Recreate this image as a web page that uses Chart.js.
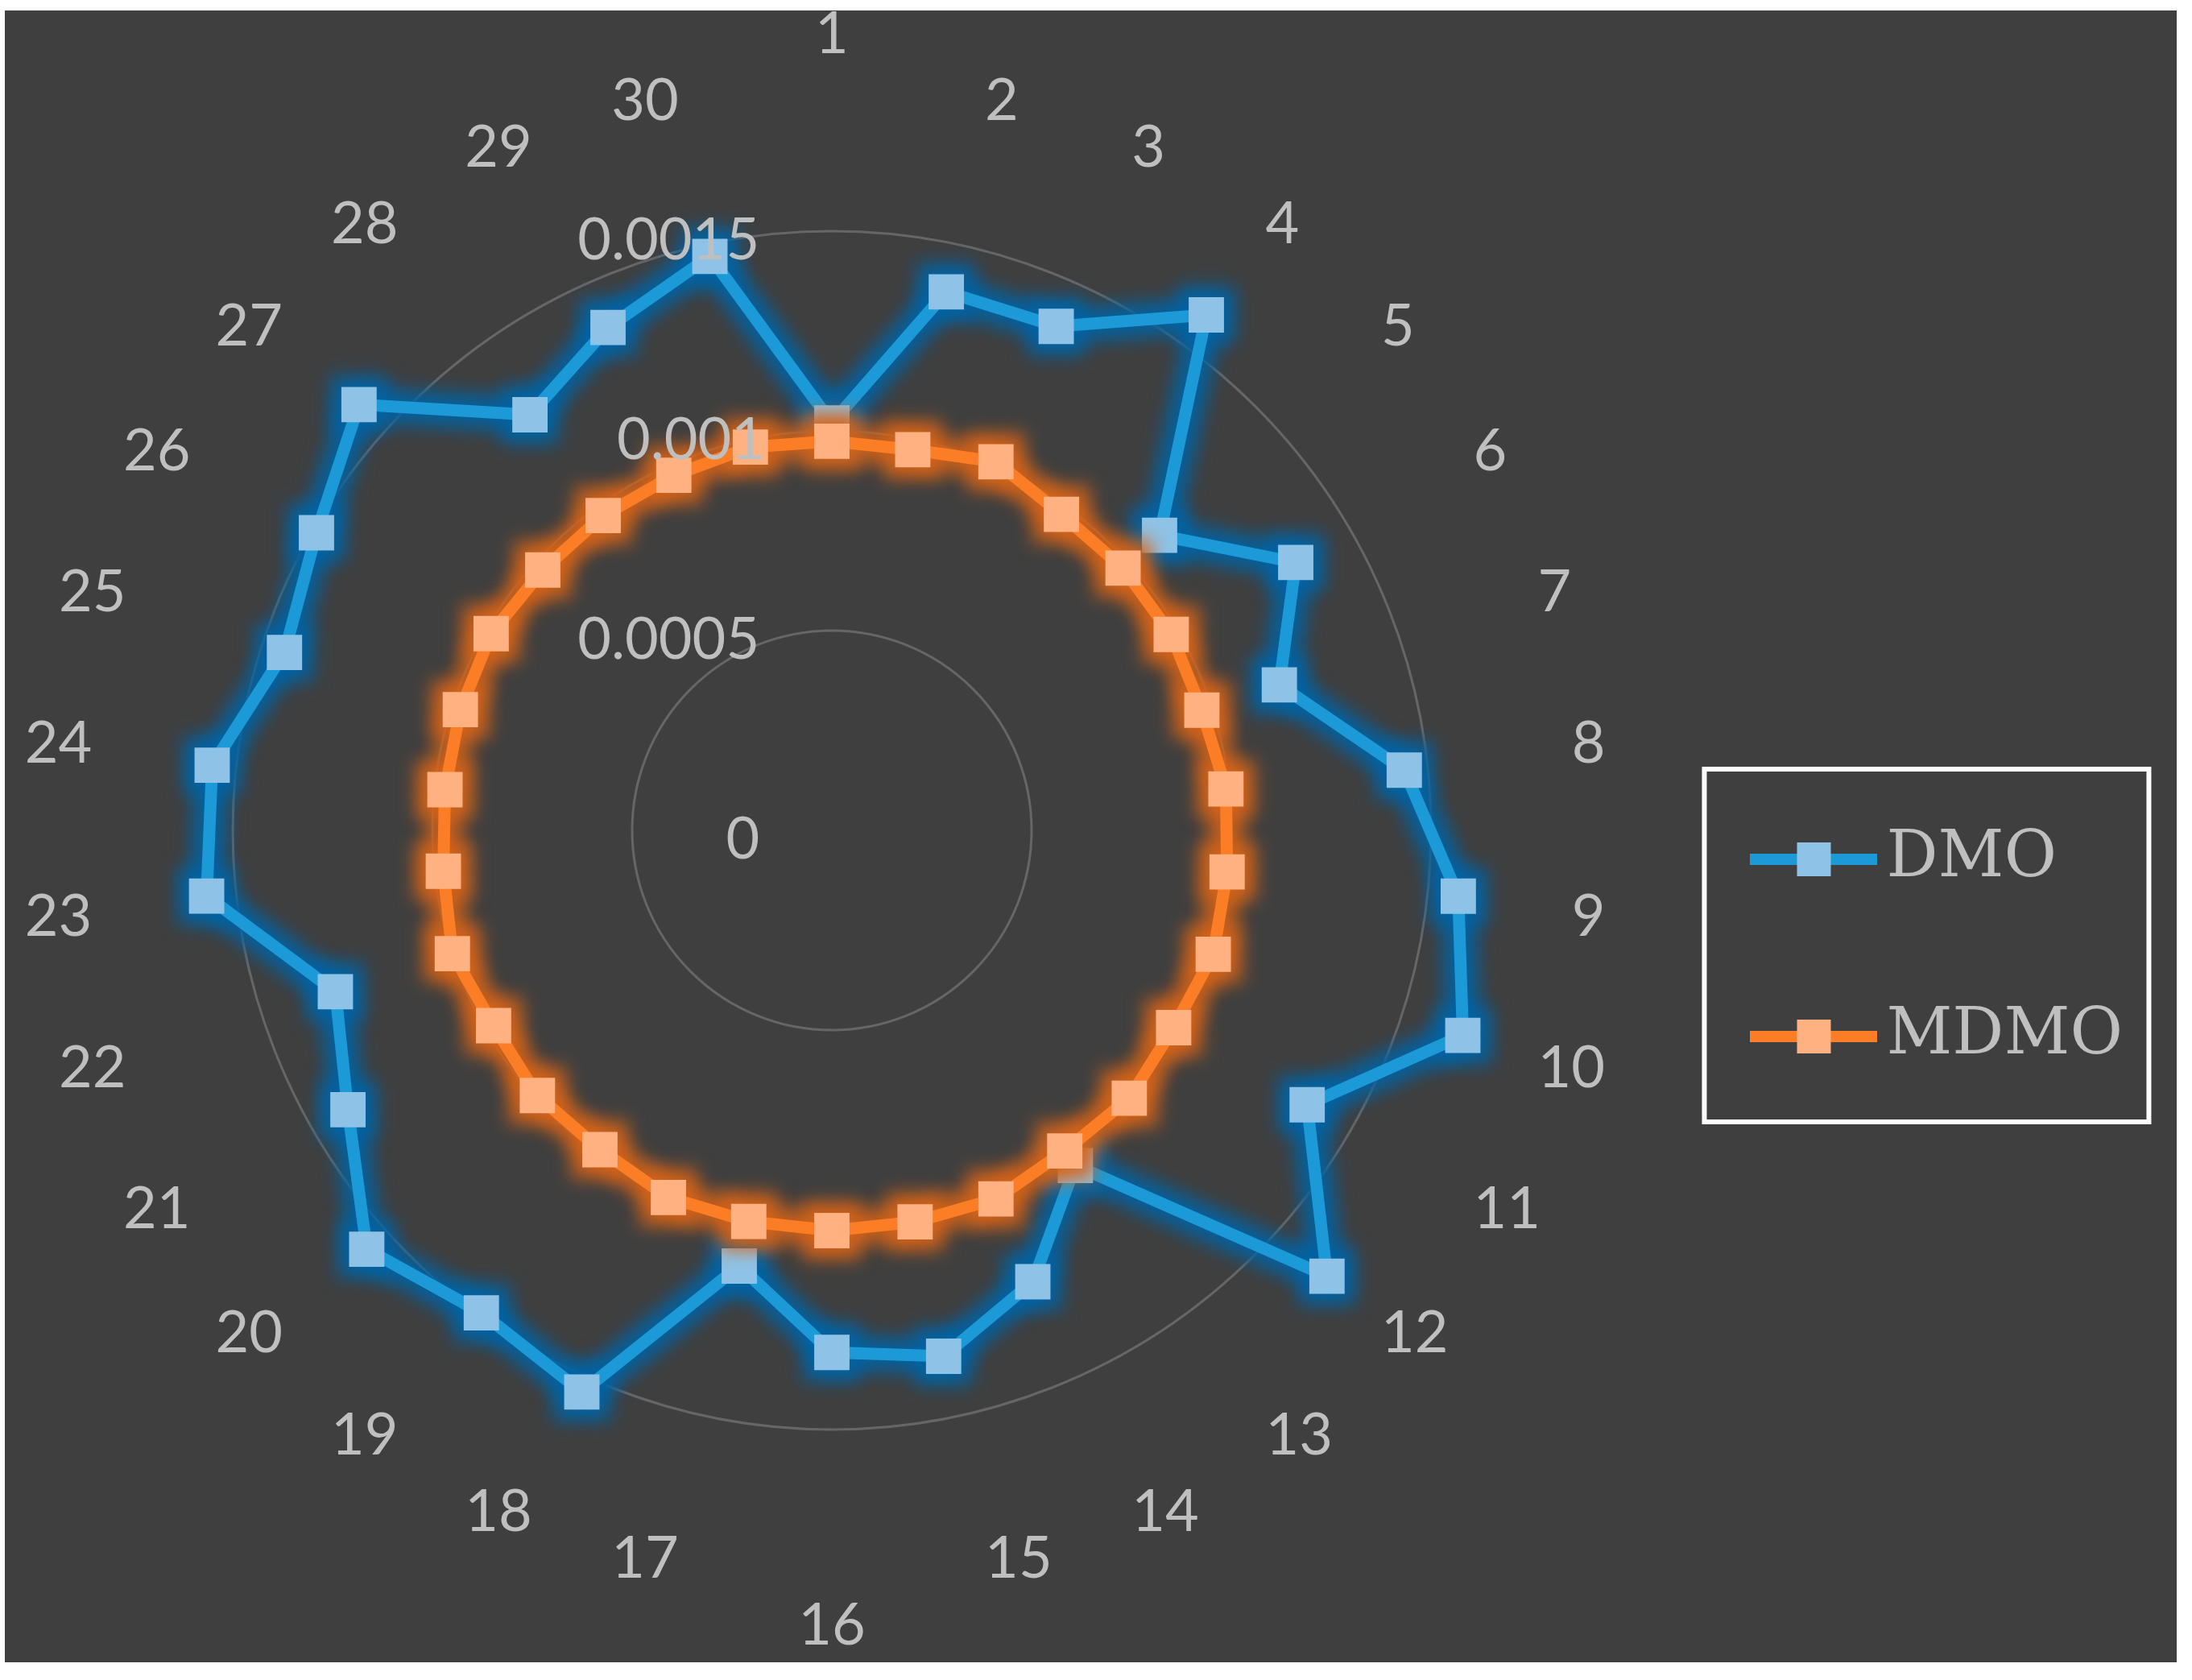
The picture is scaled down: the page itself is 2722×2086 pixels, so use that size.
<!DOCTYPE html>
<html>
<head>
<meta charset="utf-8">
<script src="https://cdn.jsdelivr.net/npm/chart.js@4.4.1/dist/chart.umd.min.js"></script>
<style>
html, body { margin: 0; padding: 0; background: #ffffff; }
#wrap { position: absolute; left: 6px; top: 13px; width: 2697px; height: 2051px; background: #3f3f3f; }
canvas { display: block; }
</style>
</head>
<body>
<div id="wrap"><canvas id="c" width="2697" height="2051"></canvas></div>
<script>
// ---------- data ----------
const categories = ['1','2','3','4','5','6','7','8','9','10','11','12','13','14','15',
                    '16','17','18','19','20','21','22','23','24','25','26','27','28','29','30'];
const dmoValues = [0.00102, 0.001378, 0.001381, 0.001595, 0.001104, 0.001341, 0.001178, 0.001441,
                   0.001577, 0.001661, 0.001374, 0.001668, 0.001037, 0.001237, 0.001346, 0.001307,
                   0.001115, 0.001539, 0.001493, 0.001567, 0.001399, 0.001307, 0.001574, 0.00156,
                   0.001441, 0.00149, 0.001593, 0.001286, 0.001378, 0.001469];
const mdmoValues = [0.000974, 0.000974, 0.00101, 0.000978, 0.000981, 0.000981, 0.000974, 0.000992,
                    0.000995, 0.001004, 0.000988, 0.001002, 0.000992, 0.00101, 0.001002, 0.001002,
                    0.001001, 0.001006, 0.000988, 0.000992, 0.000978, 0.000999, 0.000978, 0.000974,
                    0.000978, 0.000985, 0.000974, 0.000974, 0.000973, 0.000981];
const tickValues = [0, 0.0005, 0.001, 0.0015];
const tickLabels = ['0', '0.0005', '0.001', '0.0015'];
const seriesNames = ['DMO', 'MDMO'];

// ---------- style / layout ----------
const TEXT = '#bfbfbf';
const FONT_FAMILY = 'Lato', FONT_SIZE = 72;
const TICK_FONT = { family: FONT_FAMILY, size: FONT_SIZE, lineHeight: '12px' };
const POINT_FONT = { family: FONT_FAMILY, size: FONT_SIZE, lineHeight: 0.3 };
const CENTER_X = 1027, CENTER_Y = 1018, RADIUS = 744;   // ring of the max value
const TICK_GAP = 87;                                      // tick text right edge left of centre
const lineColors = ['#1c9ad8', '#fb7e26'];
const markerColors = ['#8ec3e7', '#ffb181'];
const glowColors = ['rgba(0,100,165,0.9)', 'rgba(215,100,25,0.85)'];

function legendIcon(lineColor, markColor) {
  const cv = document.createElement('canvas');
  cv.width = 158; cv.height = 44;
  const g = cv.getContext('2d');
  g.fillStyle = lineColor; g.fillRect(0, 15, 158, 14);
  g.fillStyle = markColor; g.fillRect(58, 1, 42, 42);
  return cv;
}
const legendIcons = [legendIcon(lineColors[0], markerColors[0]), legendIcon(lineColors[1], markerColors[1])];

function measure(chart, text) {
  const c = chart.ctx; c.save();
  c.font = FONT_SIZE + 'px ' + FONT_FAMILY;
  const w = c.measureText(text).width; c.restore();
  return w;
}

// soft glow under each series, following the points the library has laid out
const glowPlugin = {
  id: 'glow',
  beforeDatasetDraw(chart, args) {
    const pts = args.meta.data;
    if (!pts || !pts.length) return;
    const c = chart.ctx;
    c.save();
    c.filter = 'blur(11px)';
    c.strokeStyle = glowColors[args.index];
    c.fillStyle = glowColors[args.index];
    c.lineWidth = 44; c.lineJoin = 'round';
    c.beginPath();
    pts.forEach((p, k) => k ? c.lineTo(p.x, p.y) : c.moveTo(p.x, p.y));
    c.closePath(); c.stroke();
    pts.forEach(p => c.fillRect(p.x - 36, p.y - 36, 72, 72));
    c.restore();
  }
};

const legendFrame = {
  id: 'legendFrame',
  afterDraw(chart) {
    const hb = chart.legend && chart.legend.legendHitBoxes;
    if (!hb || hb.length < 2) return;
    const c = chart.ctx;
    const x0 = hb[0].left - 86, y0 = hb[0].top - 72;
    const x1 = hb[0].left + 466, y1 = hb[1].top + 146;
    c.save(); c.strokeStyle = '#ffffff'; c.lineWidth = 6;
    c.strokeRect(x0, y0, x1 - x0, y1 - y0); c.restore();
  }
};

new Chart(document.getElementById('c'), {
  type: 'radar',
  data: {
    labels: categories,
    datasets: [
      { label: seriesNames[0], data: dmoValues, order: 1 },
      { label: seriesNames[1], data: mdmoValues, order: 0 }
    ].map((d, i) => Object.assign(d, {
      borderColor: lineColors[i], borderWidth: 15, fill: false, tension: 0,
      pointStyle: 'rect', pointRadius: 31, pointBorderWidth: 0,
      pointBackgroundColor: markerColors[i], clip: false
    }))
  },
  options: {
    responsive: false, animation: false, devicePixelRatio: 1,
    layout: { padding: { left: 0, top: 0, bottom: 0, right: 57 } },
    plugins: {
      tooltip: { enabled: false },
      legend: {
        position: 'right', align: 'center',
        title: { display: true, text: '', font: { size: 10, lineHeight: 1.2 }, padding: { top: 265, bottom: 0 } },
        labels: {
          usePointStyle: true, pointStyleWidth: 100, padding: 140, color: TEXT,
          font: { family: 'DejaVu Serif', size: 80 },
          sort: (a, b) => a.datasetIndex - b.datasetIndex,
          generateLabels(chart) {
            const items = Chart.defaults.plugins.legend.labels.generateLabels(chart);
            items.forEach(it => { it.pointStyle = legendIcons[it.datasetIndex]; it.fontColor = TEXT; });
            return items;
          }
        }
      }
    },
    scales: {
      r: {
        min: tickValues[0], max: tickValues[tickValues.length - 1],
        startAngle: 0,
        angleLines: { display: false },
        grid: {
          circular: true, lineWidth: 3,
          color: (ctx) => (ctx.tick && ctx.tick.value === 0) ? 'rgba(0,0,0,0)' : '#666666'
        },
        afterBuildTicks(scale) {
          scale.ticks = [{ value: tickValues[0] }].concat(tickValues.map(v => ({ value: v })));
        },
        afterSetDimensions(scale) {
          scale.xCenter = scale.left + CENTER_X;
          scale.yCenter = scale.top + CENTER_Y;
          scale.drawingArea = RADIUS;
          scale._padding = { top: -2000, bottom: -2000, left: -2000, right: -2000, width: -4000, height: -4000 };
        },
        ticks: {
          z: 1, color: TEXT, font: TICK_FONT, showLabelBackdrop: false,
          callback: function (value, index) {
            if (index === 0) return '';
            const label = tickLabels[index - 1];
            const w = measure(this.chart, label);
            const s = measure(this.chart, '\u00a0') || 14;
            return ['', label + '\u00a0'.repeat(Math.round((w + 2 * TICK_GAP) / s))];
          }
        },
        pointLabels: {
          color: TEXT, font: POINT_FONT,
          padding: (ctx) => {
            const n = categories.length, i = ctx.index;
            const th = 2 * Math.PI * i / n;
            const r0 = (i === 0 || i === n / 2) ? 988 : 925;
            return r0 - FONT_SIZE * POINT_FONT.lineHeight / 2 * Math.abs(Math.cos(th)) - RADIUS - 38;
          }
        }
      }
    }
  },
  plugins: [glowPlugin, legendFrame]
});
</script>
</body>
</html>
